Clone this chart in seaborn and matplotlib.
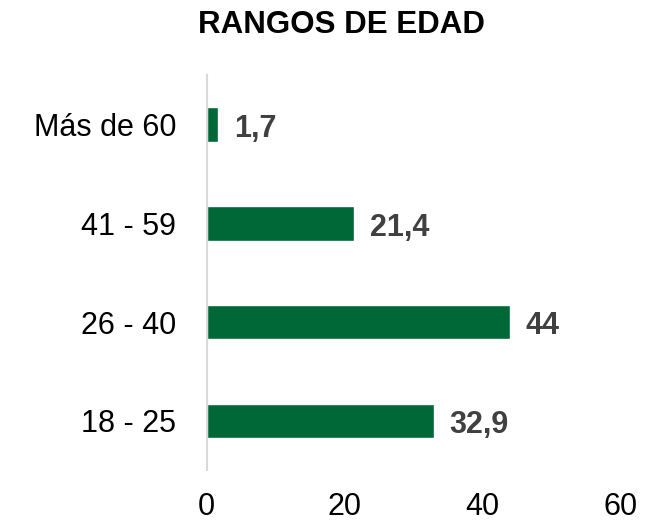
import pandas as pd
import seaborn as sns
import matplotlib.pyplot as plt

categories = ['Más de 60', '41 - 59', '26 - 40', '18 - 25']
values = [1.7, 21.4, 44, 32.9]
value_labels = ['1,7', '21,4', '44', '32,9']
x_ticks = [0, 20, 40, 60]

df = pd.DataFrame({'rango': categories, 'pct': values})

sns.set_style('white')
plt.rcParams['font.family'] = ['Liberation Sans', 'DejaVu Sans']

fig = plt.figure(figsize=(6.69, 5.26), dpi=100)
ax = fig.add_axes([0.309, 0.106, 0.619, 0.751])

sns.barplot(data=df, y='rango', x='pct', orient='h', color='#006837',
            saturation=1, width=0.35, ax=ax)

for i, (v, lab) in enumerate(zip(values, value_labels)):
    ax.annotate(lab, (v, i), xytext=(11, -3), textcoords='offset points',
                ha='left', va='center', fontsize=22, fontweight='bold',
                color='#404040')

ax.set_xlim(0, 60)
ax.set_ylim(3.5, -0.5)
ax.set_xticks(x_ticks)
ax.set_xlabel('')
ax.set_ylabel('')
ax.tick_params(axis='x', length=0, pad=16, labelsize=22, colors='black')
ax.tick_params(axis='y', length=0, pad=22, labelsize=22, colors='black')
for s in ['top', 'right', 'bottom']:
    ax.spines[s].set_visible(False)
ax.spines['left'].set_color('#d9d9d9')
ax.spines['left'].set_linewidth(1.5)

fig.text(0.51, 0.952, 'RANGOS DE EDAD', ha='center', va='center',
         fontsize=22.5, fontweight='bold', color='black')

fig.savefig('out.png', dpi=100)
